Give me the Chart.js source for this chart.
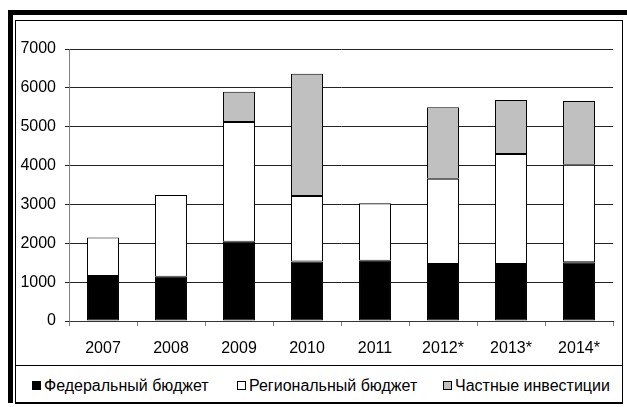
<!DOCTYPE html>
<html>
<head>
<meta charset="utf-8">
<script src="https://cdn.jsdelivr.net/npm/chart.js@4.4.1/dist/chart.umd.min.js"></script>
<style>
  body { margin: 0; background: #fff; font-family: "Liberation Sans", Arial, sans-serif; }
  #outer { position: absolute; left: 8px; top: 10px; width: 619px; height: 393px;
           border-top: 5px solid #000; border-left: 5px solid #000; box-sizing: border-box; }
  #frame { position: absolute; left: 15px; top: 20px; width: 608px; height: 384px;
           border: 1px solid #000; border-bottom: 2px solid #000; box-sizing: border-box; background: #fff; }
  #wrap { position: absolute; left: 0; top: 0; width: 606px; height: 344px; }
  #legend { position: absolute; left: 0; top: 344px; width: 606px; height: 37px;
            border-top: 1px solid #000; box-sizing: border-box; font-size: 16px; color: #000; }
  .item { position: absolute; top: 1px; height: 37px; display: flex; align-items: center; white-space: nowrap; }
  .box { width: 7px; height: 7px; border: 1px solid #000; margin-right: 3px; }
</style>
</head>
<body>
<div id="outer"></div>
<div id="frame">
  <div id="wrap"><canvas id="c"></canvas></div>
  <div id="legend"></div>
</div>
<script>
// years, * = forecast
const years = ['2007', '2008', '2009', '2010', '2011', '2012*', '2013*', '2014*'];
const federal = [1160, 1140, 2040, 1530, 1550, 1470, 1470, 1510];
const regional = [990, 2100, 3080, 1690, 1480, 2190, 2830, 2510];
const privateInv = [null, null, 780, 3140, null, 1840, 1390, 1640];
const yTicks = [0, 1000, 2000, 3000, 4000, 5000, 6000, 7000];

const seriesNames = ['Федеральный бюджет', 'Региональный бюджет', 'Частные инвестиции'];
const seriesColors = ['#000000', '#ffffff', '#c0c0c0'];
const legendLeft = [16, 221, 427];

function makeSet(i, values) {
  return {
    label: seriesNames[i],
    data: values,
    backgroundColor: seriesColors[i],
    borderColor: '#000',
    borderWidth: 1,
    borderSkipped: false,
    barPercentage: 0.47,
    categoryPercentage: 1
  };
}

var ctx = document.getElementById('c').getContext('2d');
var chart = new Chart(ctx, {
  type: 'bar',
  data: {
    labels: years,
    datasets: [makeSet(0, federal), makeSet(1, regional), makeSet(2, privateInv)]
  },
  options: {
    responsive: true,
    maintainAspectRatio: false,
    animation: false,
    layout: { padding: { top: 28, right: 9, left: 0, bottom: 0 } },
    plugins: { legend: { display: false }, tooltip: { enabled: false } },
    scales: {
      x: {
        stacked: true,
        afterFit: function (s) { s.height = 44; },
        grid: { drawOnChartArea: false, drawTicks: true, tickLength: 5, color: '#808080', offset: true },
        border: { color: '#333', width: 1 },
        ticks: { color: '#000', font: { family: 'Liberation Sans', size: 16 }, padding: 13, maxRotation: 0 }
      },
      y: {
        stacked: true,
        min: 0,
        max: 7000,
        afterBuildTicks: function (s) { s.ticks = yTicks.map(v => ({ value: v })); },
        afterFit: function (s) { s.width = 53; },
        grid: { color: '#222', tickLength: 4, lineWidth: 1 },
        border: { color: '#808080', width: 1 },
        ticks: { color: '#000', font: { family: 'Liberation Sans', size: 16 }, padding: 9,
                 callback: function (v) { return String(v); } }
      }
    }
  }
});

// html legend
var leg = document.getElementById('legend');
seriesNames.forEach(function (name, i) {
  var it = document.createElement('div');
  it.className = 'item';
  it.style.left = legendLeft[i] + 'px';
  it.innerHTML = '<span class="box" style="background:' + seriesColors[i] + '"></span>' + name;
  leg.appendChild(it);
});
</script>
</body>
</html>
